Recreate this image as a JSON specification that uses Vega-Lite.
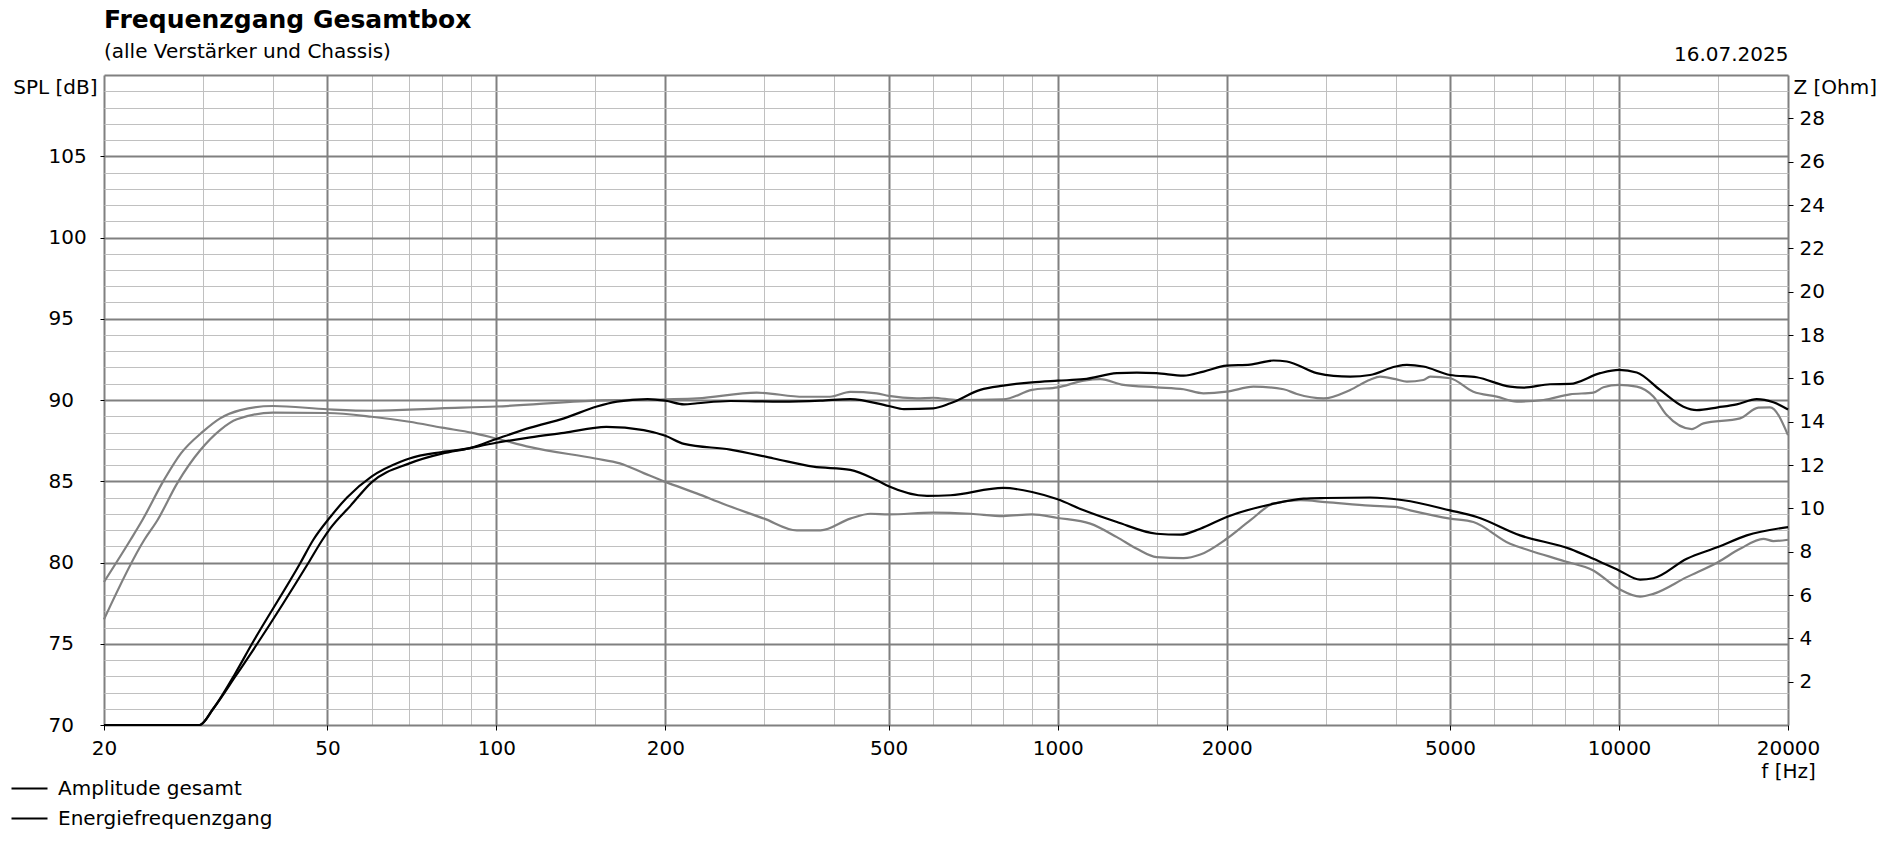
{
  "$schema": "https://vega.github.io/schema/vega-lite/v6.json",
  "width": 1684,
  "height": 650,
  "autosize": {"type": "none"},
  "padding": {"left": 104, "top": 75, "right": 100, "bottom": 116},
  "background": "white",
  "config": {
    "font": "DejaVu Sans",
    "view": {"stroke": null},
    "axis": {"labelFont": "DejaVu Sans", "titleFont": "DejaVu Sans", "labelColor": "black", "titleColor": "black", "titleFontWeight": "normal", "labelFontSize": 20, "titleFontSize": 20}
  },
  "title": {
    "text": "Frequenzgang Gesamtbox",
    "subtitle": "(alle Verstärker und Chassis)",
    "anchor": "start",
    "frame": "group",
    "font": "DejaVu Sans",
    "subtitleFont": "DejaVu Sans",
    "fontSize": 25,
    "fontWeight": "bold",
    "color": "black",
    "subtitleFontSize": 20,
    "subtitleColor": "black",
    "subtitlePadding": 9,
    "offset": -18
  },
  "datasets": {
    "kurven": [
      {"kurve": "Vergleich 1", "f": 20, "spl": 78.8},
      {"kurve": "Vergleich 1", "f": 22.3, "spl": 81.4},
      {"kurve": "Vergleich 1", "f": 23.4, "spl": 82.6},
      {"kurve": "Vergleich 1", "f": 25.6, "spl": 85.1},
      {"kurve": "Vergleich 1", "f": 27.4, "spl": 86.7},
      {"kurve": "Vergleich 1", "f": 30, "spl": 88.05},
      {"kurve": "Vergleich 1", "f": 32.2, "spl": 88.87},
      {"kurve": "Vergleich 1", "f": 35, "spl": 89.38},
      {"kurve": "Vergleich 1", "f": 40, "spl": 89.63},
      {"kurve": "Vergleich 1", "f": 50, "spl": 89.43},
      {"kurve": "Vergleich 1", "f": 60, "spl": 89.34},
      {"kurve": "Vergleich 1", "f": 79.5, "spl": 89.49},
      {"kurve": "Vergleich 1", "f": 100, "spl": 89.6},
      {"kurve": "Vergleich 1", "f": 150, "spl": 89.96},
      {"kurve": "Vergleich 1", "f": 200, "spl": 90.04},
      {"kurve": "Vergleich 1", "f": 228, "spl": 90.1},
      {"kurve": "Vergleich 1", "f": 291, "spl": 90.45},
      {"kurve": "Vergleich 1", "f": 353, "spl": 90.2},
      {"kurve": "Vergleich 1", "f": 393, "spl": 90.2},
      {"kurve": "Vergleich 1", "f": 427, "spl": 90.5},
      {"kurve": "Vergleich 1", "f": 476, "spl": 90.41},
      {"kurve": "Vergleich 1", "f": 500, "spl": 90.25},
      {"kurve": "Vergleich 1", "f": 561, "spl": 90.1},
      {"kurve": "Vergleich 1", "f": 600, "spl": 90.14},
      {"kurve": "Vergleich 1", "f": 661, "spl": 90.0},
      {"kurve": "Vergleich 1", "f": 800, "spl": 90.04},
      {"kurve": "Vergleich 1", "f": 900, "spl": 90.62},
      {"kurve": "Vergleich 1", "f": 1000, "spl": 90.78},
      {"kurve": "Vergleich 1", "f": 1113, "spl": 91.19},
      {"kurve": "Vergleich 1", "f": 1191, "spl": 91.28},
      {"kurve": "Vergleich 1", "f": 1310, "spl": 90.93},
      {"kurve": "Vergleich 1", "f": 1500, "spl": 90.78},
      {"kurve": "Vergleich 1", "f": 1676, "spl": 90.66},
      {"kurve": "Vergleich 1", "f": 1819, "spl": 90.41},
      {"kurve": "Vergleich 1", "f": 2000, "spl": 90.51},
      {"kurve": "Vergleich 1", "f": 2232, "spl": 90.82},
      {"kurve": "Vergleich 1", "f": 2526, "spl": 90.66},
      {"kurve": "Vergleich 1", "f": 2667, "spl": 90.37},
      {"kurve": "Vergleich 1", "f": 2976, "spl": 90.1},
      {"kurve": "Vergleich 1", "f": 3320, "spl": 90.62},
      {"kurve": "Vergleich 1", "f": 3602, "spl": 91.25},
      {"kurve": "Vergleich 1", "f": 3754, "spl": 91.44},
      {"kurve": "Vergleich 1", "f": 4000, "spl": 91.28},
      {"kurve": "Vergleich 1", "f": 4188, "spl": 91.13},
      {"kurve": "Vergleich 1", "f": 4482, "spl": 91.23},
      {"kurve": "Vergleich 1", "f": 4608, "spl": 91.44},
      {"kurve": "Vergleich 1", "f": 5000, "spl": 91.34},
      {"kurve": "Vergleich 1", "f": 5502, "spl": 90.51},
      {"kurve": "Vergleich 1", "f": 6056, "spl": 90.21},
      {"kurve": "Vergleich 1", "f": 6574, "spl": 89.9},
      {"kurve": "Vergleich 1", "f": 7332, "spl": 90.0},
      {"kurve": "Vergleich 1", "f": 8178, "spl": 90.35},
      {"kurve": "Vergleich 1", "f": 9000, "spl": 90.45},
      {"kurve": "Vergleich 1", "f": 9380, "spl": 90.78},
      {"kurve": "Vergleich 1", "f": 10000, "spl": 90.93},
      {"kurve": "Vergleich 1", "f": 10756, "spl": 90.82},
      {"kurve": "Vergleich 1", "f": 11512, "spl": 90.21},
      {"kurve": "Vergleich 1", "f": 12162, "spl": 89.07},
      {"kurve": "Vergleich 1", "f": 13476, "spl": 88.21},
      {"kurve": "Vergleich 1", "f": 14136, "spl": 88.56},
      {"kurve": "Vergleich 1", "f": 16428, "spl": 88.87},
      {"kurve": "Vergleich 1", "f": 17712, "spl": 89.53},
      {"kurve": "Vergleich 1", "f": 18578, "spl": 89.55},
      {"kurve": "Vergleich 1", "f": 20000, "spl": 87.84},
      {"kurve": "Vergleich 2", "f": 20, "spl": 76.5},
      {"kurve": "Vergleich 2", "f": 23.6, "spl": 81.4},
      {"kurve": "Vergleich 2", "f": 24.9, "spl": 82.6},
      {"kurve": "Vergleich 2", "f": 27, "spl": 84.87},
      {"kurve": "Vergleich 2", "f": 29.7, "spl": 86.92},
      {"kurve": "Vergleich 2", "f": 32.2, "spl": 88.15},
      {"kurve": "Vergleich 2", "f": 34.5, "spl": 88.81},
      {"kurve": "Vergleich 2", "f": 40, "spl": 89.22},
      {"kurve": "Vergleich 2", "f": 50, "spl": 89.2},
      {"kurve": "Vergleich 2", "f": 60, "spl": 88.97},
      {"kurve": "Vergleich 2", "f": 70, "spl": 88.66},
      {"kurve": "Vergleich 2", "f": 80, "spl": 88.3},
      {"kurve": "Vergleich 2", "f": 90.7, "spl": 87.98},
      {"kurve": "Vergleich 2", "f": 100, "spl": 87.63},
      {"kurve": "Vergleich 2", "f": 115, "spl": 87.1},
      {"kurve": "Vergleich 2", "f": 150, "spl": 86.4},
      {"kurve": "Vergleich 2", "f": 166, "spl": 86.1},
      {"kurve": "Vergleich 2", "f": 183, "spl": 85.5},
      {"kurve": "Vergleich 2", "f": 200, "spl": 84.96},
      {"kurve": "Vergleich 2", "f": 228, "spl": 84.24},
      {"kurve": "Vergleich 2", "f": 254, "spl": 83.6},
      {"kurve": "Vergleich 2", "f": 300, "spl": 82.7},
      {"kurve": "Vergleich 2", "f": 343, "spl": 81.98},
      {"kurve": "Vergleich 2", "f": 378, "spl": 81.98},
      {"kurve": "Vergleich 2", "f": 427, "spl": 82.7},
      {"kurve": "Vergleich 2", "f": 464, "spl": 83.0},
      {"kurve": "Vergleich 2", "f": 500, "spl": 82.96},
      {"kurve": "Vergleich 2", "f": 600, "spl": 83.07},
      {"kurve": "Vergleich 2", "f": 700, "spl": 83.0},
      {"kurve": "Vergleich 2", "f": 800, "spl": 82.86},
      {"kurve": "Vergleich 2", "f": 900, "spl": 82.96},
      {"kurve": "Vergleich 2", "f": 1000, "spl": 82.74},
      {"kurve": "Vergleich 2", "f": 1143, "spl": 82.39},
      {"kurve": "Vergleich 2", "f": 1275, "spl": 81.56},
      {"kurve": "Vergleich 2", "f": 1384, "spl": 80.84},
      {"kurve": "Vergleich 2", "f": 1500, "spl": 80.33},
      {"kurve": "Vergleich 2", "f": 1676, "spl": 80.27},
      {"kurve": "Vergleich 2", "f": 1795, "spl": 80.49},
      {"kurve": "Vergleich 2", "f": 2000, "spl": 81.46},
      {"kurve": "Vergleich 2", "f": 2202, "spl": 82.59},
      {"kurve": "Vergleich 2", "f": 2424, "spl": 83.62},
      {"kurve": "Vergleich 2", "f": 2704, "spl": 83.83},
      {"kurve": "Vergleich 2", "f": 3000, "spl": 83.72},
      {"kurve": "Vergleich 2", "f": 3602, "spl": 83.5},
      {"kurve": "Vergleich 2", "f": 4000, "spl": 83.42},
      {"kurve": "Vergleich 2", "f": 4246, "spl": 83.21},
      {"kurve": "Vergleich 2", "f": 5000, "spl": 82.7},
      {"kurve": "Vergleich 2", "f": 5502, "spl": 82.49},
      {"kurve": "Vergleich 2", "f": 6396, "spl": 81.15},
      {"kurve": "Vergleich 2", "f": 6930, "spl": 80.74},
      {"kurve": "Vergleich 2", "f": 8000, "spl": 80.08},
      {"kurve": "Vergleich 2", "f": 9000, "spl": 79.51},
      {"kurve": "Vergleich 2", "f": 10000, "spl": 78.37},
      {"kurve": "Vergleich 2", "f": 10902, "spl": 77.9},
      {"kurve": "Vergleich 2", "f": 11512, "spl": 78.07},
      {"kurve": "Vergleich 2", "f": 13204, "spl": 79.1},
      {"kurve": "Vergleich 2", "f": 15000, "spl": 80.02},
      {"kurve": "Vergleich 2", "f": 16428, "spl": 80.84},
      {"kurve": "Vergleich 2", "f": 18078, "spl": 81.46},
      {"kurve": "Vergleich 2", "f": 18834, "spl": 81.32},
      {"kurve": "Vergleich 2", "f": 20000, "spl": 81.4},
      {"kurve": "Amplitude gesamt", "f": 20, "spl": 70},
      {"kurve": "Amplitude gesamt", "f": 29.6, "spl": 70},
      {"kurve": "Amplitude gesamt", "f": 31.3, "spl": 71.0},
      {"kurve": "Amplitude gesamt", "f": 34.3, "spl": 73.2},
      {"kurve": "Amplitude gesamt", "f": 36.7, "spl": 75.0},
      {"kurve": "Amplitude gesamt", "f": 44.8, "spl": 80.0},
      {"kurve": "Amplitude gesamt", "f": 47.2, "spl": 81.4},
      {"kurve": "Amplitude gesamt", "f": 50.6, "spl": 82.8},
      {"kurve": "Amplitude gesamt", "f": 54.2, "spl": 84.0},
      {"kurve": "Amplitude gesamt", "f": 60, "spl": 85.3},
      {"kurve": "Amplitude gesamt", "f": 67.5, "spl": 86.2},
      {"kurve": "Amplitude gesamt", "f": 70, "spl": 86.4},
      {"kurve": "Amplitude gesamt", "f": 80, "spl": 86.8},
      {"kurve": "Amplitude gesamt", "f": 90, "spl": 87.05},
      {"kurve": "Amplitude gesamt", "f": 100, "spl": 87.6},
      {"kurve": "Amplitude gesamt", "f": 115, "spl": 88.3},
      {"kurve": "Amplitude gesamt", "f": 132, "spl": 88.87},
      {"kurve": "Amplitude gesamt", "f": 151, "spl": 89.6},
      {"kurve": "Amplitude gesamt", "f": 164, "spl": 89.9},
      {"kurve": "Amplitude gesamt", "f": 186, "spl": 90.06},
      {"kurve": "Amplitude gesamt", "f": 200, "spl": 89.96},
      {"kurve": "Amplitude gesamt", "f": 216, "spl": 89.73},
      {"kurve": "Amplitude gesamt", "f": 228, "spl": 89.8},
      {"kurve": "Amplitude gesamt", "f": 261, "spl": 89.94},
      {"kurve": "Amplitude gesamt", "f": 321, "spl": 89.9},
      {"kurve": "Amplitude gesamt", "f": 378, "spl": 89.96},
      {"kurve": "Amplitude gesamt", "f": 427, "spl": 90.06},
      {"kurve": "Amplitude gesamt", "f": 500, "spl": 89.63},
      {"kurve": "Amplitude gesamt", "f": 532, "spl": 89.44},
      {"kurve": "Amplitude gesamt", "f": 600, "spl": 89.49},
      {"kurve": "Amplitude gesamt", "f": 644, "spl": 89.8},
      {"kurve": "Amplitude gesamt", "f": 728, "spl": 90.62},
      {"kurve": "Amplitude gesamt", "f": 800, "spl": 90.88},
      {"kurve": "Amplitude gesamt", "f": 900, "spl": 91.09},
      {"kurve": "Amplitude gesamt", "f": 1000, "spl": 91.19},
      {"kurve": "Amplitude gesamt", "f": 1113, "spl": 91.28},
      {"kurve": "Amplitude gesamt", "f": 1275, "spl": 91.65},
      {"kurve": "Amplitude gesamt", "f": 1384, "spl": 91.69},
      {"kurve": "Amplitude gesamt", "f": 1500, "spl": 91.65},
      {"kurve": "Amplitude gesamt", "f": 1676, "spl": 91.5},
      {"kurve": "Amplitude gesamt", "f": 1819, "spl": 91.75},
      {"kurve": "Amplitude gesamt", "f": 2000, "spl": 92.12},
      {"kurve": "Amplitude gesamt", "f": 2202, "spl": 92.18},
      {"kurve": "Amplitude gesamt", "f": 2424, "spl": 92.43},
      {"kurve": "Amplitude gesamt", "f": 2560, "spl": 92.37},
      {"kurve": "Amplitude gesamt", "f": 2894, "spl": 91.65},
      {"kurve": "Amplitude gesamt", "f": 3100, "spl": 91.48},
      {"kurve": "Amplitude gesamt", "f": 3320, "spl": 91.44},
      {"kurve": "Amplitude gesamt", "f": 3602, "spl": 91.54},
      {"kurve": "Amplitude gesamt", "f": 4000, "spl": 92.06},
      {"kurve": "Amplitude gesamt", "f": 4188, "spl": 92.16},
      {"kurve": "Amplitude gesamt", "f": 4482, "spl": 92.06},
      {"kurve": "Amplitude gesamt", "f": 5000, "spl": 91.54},
      {"kurve": "Amplitude gesamt", "f": 5580, "spl": 91.4},
      {"kurve": "Amplitude gesamt", "f": 6396, "spl": 90.82},
      {"kurve": "Amplitude gesamt", "f": 6756, "spl": 90.76},
      {"kurve": "Amplitude gesamt", "f": 7536, "spl": 90.97},
      {"kurve": "Amplitude gesamt", "f": 8178, "spl": 90.99},
      {"kurve": "Amplitude gesamt", "f": 9254, "spl": 91.65},
      {"kurve": "Amplitude gesamt", "f": 10000, "spl": 91.85},
      {"kurve": "Amplitude gesamt", "f": 10756, "spl": 91.69},
      {"kurve": "Amplitude gesamt", "f": 11832, "spl": 90.62},
      {"kurve": "Amplitude gesamt", "f": 13024, "spl": 89.59},
      {"kurve": "Amplitude gesamt", "f": 13756, "spl": 89.38},
      {"kurve": "Amplitude gesamt", "f": 15000, "spl": 89.55},
      {"kurve": "Amplitude gesamt", "f": 16208, "spl": 89.73},
      {"kurve": "Amplitude gesamt", "f": 17592, "spl": 90.06},
      {"kurve": "Amplitude gesamt", "f": 18834, "spl": 89.86},
      {"kurve": "Amplitude gesamt", "f": 20000, "spl": 89.42},
      {"kurve": "Energiefrequenzgang", "f": 20, "spl": 70},
      {"kurve": "Energiefrequenzgang", "f": 29.6, "spl": 70},
      {"kurve": "Energiefrequenzgang", "f": 31.3, "spl": 71.0},
      {"kurve": "Energiefrequenzgang", "f": 34.3, "spl": 73.0},
      {"kurve": "Energiefrequenzgang", "f": 37.5, "spl": 75.0},
      {"kurve": "Energiefrequenzgang", "f": 46.3, "spl": 80.0},
      {"kurve": "Energiefrequenzgang", "f": 49, "spl": 81.4},
      {"kurve": "Energiefrequenzgang", "f": 50.6, "spl": 82.1},
      {"kurve": "Energiefrequenzgang", "f": 55, "spl": 83.5},
      {"kurve": "Energiefrequenzgang", "f": 60, "spl": 84.95},
      {"kurve": "Energiefrequenzgang", "f": 70, "spl": 86.1},
      {"kurve": "Energiefrequenzgang", "f": 80, "spl": 86.7},
      {"kurve": "Energiefrequenzgang", "f": 88, "spl": 86.98},
      {"kurve": "Energiefrequenzgang", "f": 100, "spl": 87.37},
      {"kurve": "Energiefrequenzgang", "f": 115, "spl": 87.7},
      {"kurve": "Energiefrequenzgang", "f": 132, "spl": 87.98},
      {"kurve": "Energiefrequenzgang", "f": 157, "spl": 88.35},
      {"kurve": "Energiefrequenzgang", "f": 183, "spl": 88.15},
      {"kurve": "Energiefrequenzgang", "f": 200, "spl": 87.8},
      {"kurve": "Energiefrequenzgang", "f": 216, "spl": 87.3},
      {"kurve": "Energiefrequenzgang", "f": 261, "spl": 86.95},
      {"kurve": "Energiefrequenzgang", "f": 312, "spl": 86.4},
      {"kurve": "Energiefrequenzgang", "f": 367, "spl": 85.9},
      {"kurve": "Energiefrequenzgang", "f": 427, "spl": 85.7},
      {"kurve": "Energiefrequenzgang", "f": 476, "spl": 85.06},
      {"kurve": "Energiefrequenzgang", "f": 500, "spl": 84.69},
      {"kurve": "Energiefrequenzgang", "f": 585, "spl": 84.1},
      {"kurve": "Energiefrequenzgang", "f": 644, "spl": 84.14},
      {"kurve": "Energiefrequenzgang", "f": 800, "spl": 84.59},
      {"kurve": "Energiefrequenzgang", "f": 900, "spl": 84.34},
      {"kurve": "Energiefrequenzgang", "f": 1000, "spl": 83.89},
      {"kurve": "Energiefrequenzgang", "f": 1113, "spl": 83.21},
      {"kurve": "Energiefrequenzgang", "f": 1275, "spl": 82.49},
      {"kurve": "Energiefrequenzgang", "f": 1500, "spl": 81.77},
      {"kurve": "Energiefrequenzgang", "f": 1653, "spl": 81.71},
      {"kurve": "Energiefrequenzgang", "f": 1795, "spl": 82.08},
      {"kurve": "Energiefrequenzgang", "f": 2000, "spl": 82.8},
      {"kurve": "Energiefrequenzgang", "f": 2424, "spl": 83.62},
      {"kurve": "Energiefrequenzgang", "f": 2742, "spl": 83.93},
      {"kurve": "Energiefrequenzgang", "f": 3000, "spl": 83.97},
      {"kurve": "Energiefrequenzgang", "f": 3602, "spl": 84.0},
      {"kurve": "Energiefrequenzgang", "f": 4130, "spl": 83.83},
      {"kurve": "Energiefrequenzgang", "f": 5000, "spl": 83.21},
      {"kurve": "Energiefrequenzgang", "f": 5580, "spl": 82.8},
      {"kurve": "Energiefrequenzgang", "f": 6664, "spl": 81.67},
      {"kurve": "Energiefrequenzgang", "f": 8178, "spl": 80.84},
      {"kurve": "Energiefrequenzgang", "f": 9000, "spl": 80.23},
      {"kurve": "Energiefrequenzgang", "f": 10000, "spl": 79.51},
      {"kurve": "Energiefrequenzgang", "f": 10902, "spl": 78.95},
      {"kurve": "Energiefrequenzgang", "f": 11512, "spl": 79.03},
      {"kurve": "Energiefrequenzgang", "f": 13204, "spl": 80.23},
      {"kurve": "Energiefrequenzgang", "f": 15000, "spl": 80.95},
      {"kurve": "Energiefrequenzgang", "f": 16884, "spl": 81.67},
      {"kurve": "Energiefrequenzgang", "f": 20000, "spl": 82.18}
    ],
    "impedanz": [
      {"f": 20, "z": 0},
      {"f": 20000, "z": 30}
    ]
  },
  "layer": [
    {
      "data": {"name": "kurven"},
      "mark": {"type": "line", "interpolate": "monotone"},
      "encoding": {
        "x": {
          "field": "f",
          "type": "quantitative",
          "scale": {"type": "log", "domain": [20, 20000], "nice": false},
          "axis": {
            "orient": "bottom",
            "title": "f [Hz]",
            "titleX": 1684,
            "titleY": 52,
            "titleAlign": "center",
            "titleBaseline": "alphabetic",
            "values": [20, 30, 40, 50, 60, 70, 80, 90, 100, 150, 200, 300, 400, 500, 600, 700, 800, 900, 1000, 1500, 2000, 3000, 4000, 5000, 6000, 7000, 8000, 9000, 10000, 15000, 20000],
            "tickCount": 100,
            "labelExpr": "indexof([20,50,100,200,500,1000,2000,5000,10000,20000], datum.value) >= 0 ? format(datum.value, 'd') : ''",
            "labelFlush": false,
            "labelOverlap": false,
            "labelBaseline": "alphabetic",
            "labelPadding": 24,
            "tickSize": 5,
            "tickColor": "black",
            "tickWidth": 1,
            "tickOpacity": {"condition": {"test": "indexof([20,50,100,200,500,1000,2000,5000,10000,20000], datum.value) >= 0", "value": 1}, "value": 0},
            "domain": false,
            "grid": true,
            "gridColor": {"condition": {"test": "indexof([20,50,100,200,500,1000,2000,5000,10000,20000], datum.value) >= 0", "value": "#808080"}, "value": "#c0c0c0"},
            "gridWidth": {"condition": {"test": "indexof([20,50,100,200,500,1000,2000,5000,10000,20000], datum.value) >= 0", "value": 2}, "value": 1}
          }
        },
        "y": {
          "field": "spl",
          "type": "quantitative",
          "scale": {"domain": [70, 110], "nice": false, "zero": false},
          "axis": {
            "orient": "left",
            "title": "SPL [dB]",
            "titleAngle": 0,
            "titleAlign": "right",
            "titleBaseline": "top",
            "titleX": -7,
            "titleY": 2,
            "values": [70, 71, 72, 73, 74, 75, 76, 77, 78, 79, 80, 81, 82, 83, 84, 85, 86, 87, 88, 89, 90, 91, 92, 93, 94, 95, 96, 97, 98, 99, 100, 101, 102, 103, 104, 105, 106, 107, 108, 109, 110],
            "tickCount": 100,
            "labelExpr": "datum.value % 5 === 0 && datum.value < 110 ? format(datum.value, 'd') : ''",
            "labelAlign": "left",
            "labelBaseline": "middle",
            "labelPadding": 52,
            "labelOverlap": false,
            "labelFlush": false,
            "tickSize": 4,
            "tickColor": "black",
            "tickWidth": 1,
            "tickOpacity": {"condition": {"test": "datum.value % 5 === 0 && datum.value < 110", "value": 1}, "value": 0},
            "domain": false,
            "grid": true,
            "gridColor": {"condition": {"test": "datum.value % 5 === 0", "value": "#808080"}, "value": "#c0c0c0"},
            "gridWidth": {"condition": {"test": "datum.value % 5 === 0", "value": 2}, "value": 1}
          }
        },
        "color": {
          "field": "kurve",
          "type": "nominal",
          "sort": null,
          "scale": {"domain": ["Amplitude gesamt", "Energiefrequenzgang", "Vergleich 1", "Vergleich 2"], "range": ["black", "black", "#808080", "#808080"]},
          "legend": {
            "values": ["Amplitude gesamt", "Energiefrequenzgang"],
            "orient": "none",
            "legendX": -94,
            "legendY": 694,
            "title": null,
            "direction": "vertical",
            "symbolType": "stroke",
            "symbolSize": 1296,
            "symbolStrokeWidth": 2,
            "labelFont": "DejaVu Sans",
            "labelFontSize": 20,
            "labelColor": "black",
            "labelLimit": 400,
            "labelOffset": 9,
            "rowPadding": 0,
            "padding": 0
          }
        },
        "strokeWidth": {
          "field": "kurve",
          "type": "nominal",
          "scale": {"domain": ["Amplitude gesamt", "Energiefrequenzgang", "Vergleich 1", "Vergleich 2"], "range": [2.2, 2.2, 1.8, 1.8]},
          "legend": null
        }
      }
    },
    {
      "data": {"name": "impedanz"},
      "mark": {"type": "point", "opacity": 0},
      "encoding": {
        "x": {
          "field": "f",
          "type": "quantitative",
          "scale": {"type": "log", "domain": [20, 20000], "nice": false},
          "axis": {
            "orient": "top",
            "title": "16.07.2025",
            "titleX": 1684,
            "titleY": -15,
            "titleAlign": "right",
            "titleBaseline": "alphabetic",
            "labels": false,
            "ticks": false,
            "domain": false,
            "grid": false
          }
        },
        "y": {
          "field": "z",
          "type": "quantitative",
          "scale": {"domain": [0, 30], "nice": false},
          "axis": {
            "orient": "right",
            "title": "Z [Ohm]",
            "titleAngle": 0,
            "titleAlign": "left",
            "titleBaseline": "top",
            "titleX": 5,
            "titleY": 2,
            "values": [2, 4, 6, 8, 10, 12, 14, 16, 18, 20, 22, 24, 26, 28],
            "tickCount": 100,
            "format": "d",
            "labelAlign": "left",
            "labelBaseline": "middle",
            "labelPadding": 6,
            "labelOverlap": false,
            "labelFlush": false,
            "tickSize": 5,
            "tickColor": "black",
            "tickWidth": 1,
            "domain": false,
            "grid": false
          }
        }
      }
    }
  ],
  "resolve": {"scale": {"y": "independent"}, "axis": {"x": "independent"}}
}
